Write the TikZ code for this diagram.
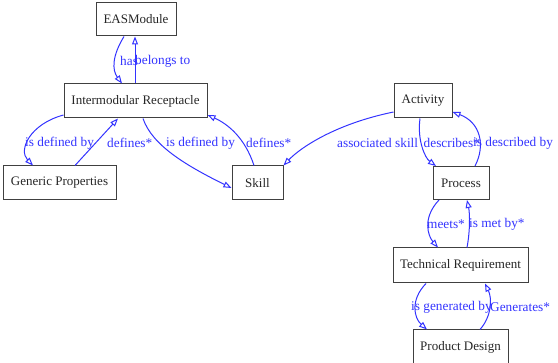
\documentclass[tikz,border=0pt]{standalone}
\usepackage{fontspec}
\setmainfont{Liberation Serif}
\usetikzlibrary{arrows.meta}
\definecolor{edgeblue}{rgb}{0.2,0.2,1}
\definecolor{boxgray}{rgb}{0.25,0.25,0.25}
\begin{document}
\begin{tikzpicture}[x=1pt,y=-1pt,
  box/.style={draw=boxgray,line width=1pt,fill=white,inner sep=0pt,
    font=\fontsize{13}{15}\selectfont,text=black!85},
  rel/.style={draw=edgeblue,line width=1pt,
    -{Triangle[open,length=8pt,width=6pt]}},
  lbl/.style={text=edgeblue,font=\fontsize{13.3}{15}\selectfont,inner sep=0pt,anchor=west}]
\useasboundingbox (0,0) rectangle (558,363);
% nodes
\node[box,minimum width=80pt,minimum height=33pt] (ea) at (136,19.5) {EASModule};
\node[box,minimum width=143pt,minimum height=34pt] (ir) at (135.5,101) {Intermodular Receptacle};
\node[box,minimum width=113pt,minimum height=34pt] (gp) at (59.5,183) {Generic Properties};
\node[box,minimum width=51pt,minimum height=34pt] (sk) at (257.5,183) {Skill};
\node[box,minimum width=58pt,minimum height=34pt] (ac) at (423,101) {Activity};
\node[box,minimum width=56pt,minimum height=33pt] (pr) at (461,183) {Process};
\node[box,minimum width=135pt,minimum height=35pt] (tr) at (460.5,265.5) {Technical Requirement};
\node[box,minimum width=95pt,minimum height=34pt] (pd) at (460.5,347) {Product Design};
% edges
\draw[rel] ([xshift=-12pt]ea.south) .. controls (112,56) and (112,70) .. ([xshift=-13.5pt]ir.north);
\draw[rel] ([xshift=-0.5pt]ir.north) -- ([xshift=-1pt]ea.south);
\draw[rel] ([yshift=-14pt]ir.west) .. controls (30,124) and (18,150) .. ([xshift=-26.5pt]gp.north);
\draw[rel] ([xshift=15.5pt]gp.north) -- ([xshift=-17.5pt]ir.south);
\draw[rel] ([xshift=7.5pt]ir.south) .. controls (152,145) and (185,165) .. ([yshift=-5pt]sk.west);
\draw[rel] ([xshift=-3.5pt]sk.north) .. controls (245,138) and (228,124) .. ([yshift=-14pt]ir.east);
\draw[rel] ([yshift=-11pt]ac.west) .. controls (335,124) and (300,148) .. (sk.north east);
\draw[rel] ([xshift=-3pt]ac.south) .. controls (417,140) and (425,158) .. ([xshift=-25pt]pr.north);
\draw[rel] ([xshift=14pt]pr.north) .. controls (486,145) and (480,122) .. ([yshift=-11pt]ac.east);
\draw[rel] ([xshift=-22pt]pr.south) .. controls (422,218) and (428,236) .. ([xshift=-22.5pt]tr.north);
\draw[rel] ([xshift=6.5pt]tr.north) .. controls (470,232) and (470,214) .. ([xshift=6pt]pr.south);
\draw[rel] ([xshift=-34.5pt]tr.south) .. controls (410,300) and (414,318) .. ([xshift=-33.5pt]pd.north);
\draw[rel] ([xshift=19.5pt]pd.north) .. controls (492,316) and (492,298) .. ([xshift=24.5pt]tr.south);
% labels
\node[lbl] (l1) at (120,61) {has};
\node[lbl] (l2) at (135,61) {belongs to};
\node[lbl] (l3) at (25,143) {is defined by};
\node[lbl] (l4) at (107,143) {defines*};
\node[lbl] (l5) at (166,143) {is defined by};
\node[lbl] (l6) at (246,143) {defines*};
\node[lbl] (l7) at (337,143) {associated skill};
\node[lbl] (l8) at (423.5,143) {describes*};
\node[lbl] (l9) at (473,143) {is described by};
\node[lbl] (l10) at (427,224) {meets*};
\node[lbl] (l11) at (469,224) {is met by*};
\node[lbl] (l12) at (411,307) {is generated by};
\node[lbl] (l13) at (490,307) {Generates*};
\end{tikzpicture}
\end{document}
